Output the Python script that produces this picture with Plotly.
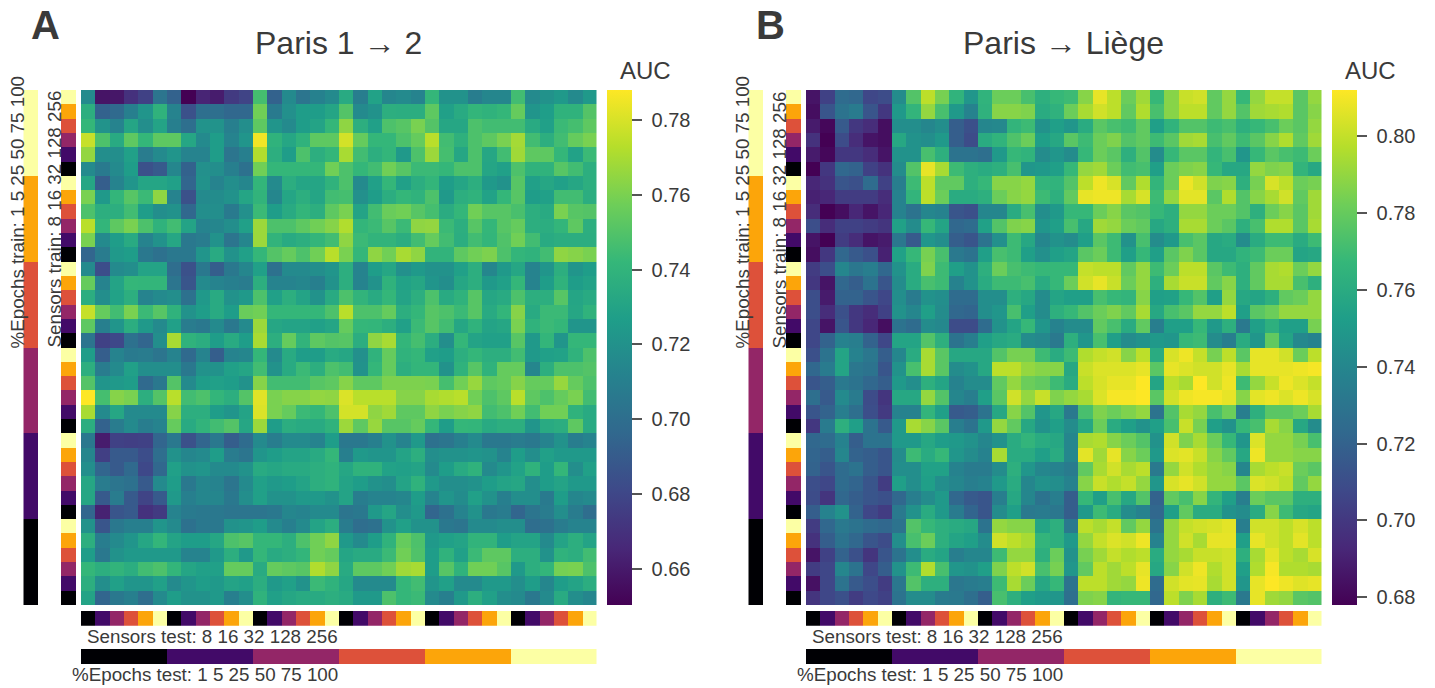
import numpy as np
import plotly.graph_objects as go

W, H = 1435, 688

# AUC x 1000, rows top (100% / 256) to bottom, columns left to right
auc_paris_1_2 = [
[712,657,658,668,675,700,690,650,663,660,672,676,743,690,712,700,707,712,730,705,725,710,712,708,738,716,716,705,710,710,742,712,716,720,712,720],
[733,690,694,706,718,735,708,682,697,697,693,693,755,703,715,722,722,727,747,712,716,733,732,732,750,724,730,737,735,738,752,718,723,735,735,747],
[738,717,708,727,714,726,706,697,717,717,706,714,750,718,712,722,726,738,762,733,724,745,748,757,747,728,728,745,742,742,742,730,724,740,743,750],
[775,745,730,750,738,750,750,728,712,722,708,718,785,735,728,735,750,750,778,752,738,738,745,752,772,742,734,745,750,757,767,742,733,742,752,757],
[763,714,714,724,704,712,718,708,708,722,700,706,770,733,722,745,733,738,768,742,733,737,720,745,765,743,728,745,728,742,766,750,750,738,725,740],
[712,703,712,722,682,686,710,690,715,714,706,698,755,738,738,738,738,755,745,738,742,755,748,740,740,738,745,745,727,724,745,735,735,748,742,733],
[728,688,708,718,727,727,724,692,716,708,714,710,737,712,732,727,727,735,745,712,724,738,724,732,737,722,727,733,720,716,748,724,728,724,728,733],
[757,720,737,748,740,762,708,682,712,713,716,727,736,710,727,733,727,742,743,715,722,732,738,735,745,720,733,735,725,738,748,722,724,742,742,732],
[745,733,733,742,722,714,716,693,714,714,703,715,740,722,730,737,733,750,757,726,742,753,755,748,743,731,738,755,748,748,744,733,730,757,748,747],
[772,737,750,757,745,735,742,726,708,710,714,724,765,745,745,750,755,760,770,737,740,748,740,762,763,740,733,748,738,748,752,733,732,737,750,733],
[757,712,722,730,708,716,728,702,704,716,700,710,765,736,730,733,737,742,762,740,736,736,732,742,752,742,732,742,737,746,755,742,730,732,732,732],
[692,704,720,722,702,698,702,702,718,730,716,724,738,747,752,745,755,772,757,738,762,755,768,762,736,736,750,755,758,745,737,735,742,762,760,757],
[712,680,712,714,726,726,696,682,702,688,702,710,724,698,712,712,714,718,733,708,722,728,715,720,716,716,724,733,710,720,728,708,718,733,718,722],
[752,708,726,738,737,737,700,684,712,708,706,704,733,708,708,710,706,716,733,708,716,735,725,728,718,714,728,733,720,724,738,708,722,735,722,725],
[732,714,725,733,708,712,714,698,720,730,716,720,745,724,733,726,716,730,745,736,730,738,726,733,745,730,735,748,728,730,745,733,733,748,727,730],
[775,752,742,757,740,748,735,716,722,730,722,753,755,738,738,738,738,745,772,745,745,752,733,738,748,745,740,748,730,737,760,730,740,740,728,735],
[750,706,718,732,720,712,724,704,702,712,702,712,765,728,726,726,724,727,752,738,737,733,724,740,748,742,728,735,726,728,757,735,740,738,718,718],
[700,675,678,698,692,714,768,735,732,722,730,722,768,733,752,736,750,747,748,732,762,768,737,743,732,714,738,726,724,724,748,720,737,718,738,738],
[722,688,708,703,704,700,708,694,708,688,708,710,738,712,730,722,722,730,728,715,735,752,735,738,724,722,733,738,733,733,742,720,724,725,735,745],
[733,704,712,724,714,714,714,702,716,716,724,727,742,716,730,740,733,745,742,716,738,752,733,737,737,716,735,748,735,752,752,710,733,745,745,747],
[747,718,720,722,694,702,747,712,722,724,722,716,760,742,742,742,748,750,760,750,750,758,758,758,757,743,755,764,750,752,760,752,752,764,752,745],
[788,743,760,757,733,747,772,742,745,737,733,747,781,757,760,760,763,762,780,772,772,772,760,760,768,770,772,755,745,750,772,750,745,752,757,742],
[768,712,728,712,712,712,760,733,733,722,718,726,780,757,752,740,738,745,778,778,762,766,750,750,762,757,760,762,742,745,755,742,755,755,735,730],
[732,690,704,712,705,708,752,730,736,742,747,728,765,722,732,730,730,735,765,750,764,748,748,752,738,722,738,737,730,733,733,718,730,732,750,730],
[702,660,675,674,675,692,702,682,692,702,688,695,712,705,712,712,708,722,702,702,706,716,708,720,698,700,706,712,702,702,704,702,708,716,705,708],
[710,674,686,686,680,696,716,710,712,722,704,700,718,722,726,726,730,738,706,720,718,718,726,733,714,716,716,718,716,708,722,714,724,720,720,720],
[714,692,686,694,678,693,724,716,718,712,712,716,730,728,730,730,733,735,728,735,735,725,724,726,712,722,730,735,712,718,725,735,722,738,714,724],
[728,704,700,698,686,712,722,702,710,708,700,712,724,720,722,726,733,735,726,722,716,714,726,735,720,714,714,716,722,726,728,714,722,726,720,720],
[728,686,704,686,676,686,720,706,710,710,702,714,724,716,716,720,720,716,726,705,708,708,710,722,708,718,713,724,716,706,714,714,703,722,710,712],
[692,662,684,686,668,672,708,703,702,702,700,700,700,702,710,708,712,712,700,702,720,727,714,720,692,698,708,716,702,704,692,700,704,714,704,696],
[716,684,702,706,706,718,712,698,702,702,716,718,722,712,706,712,726,732,704,696,698,716,724,716,716,702,700,712,712,714,714,696,698,704,708,708],
[733,705,712,718,728,737,726,722,722,728,745,748,738,738,733,745,755,762,720,712,722,735,752,745,720,724,726,736,736,722,726,726,712,726,733,726],
[722,702,716,720,720,720,720,708,708,720,733,720,738,730,733,737,755,752,727,730,730,740,755,746,722,735,724,740,750,750,733,733,716,735,733,742],
[738,733,736,732,742,745,737,727,724,724,752,752,730,752,750,748,770,762,730,750,750,755,766,768,722,748,735,755,755,748,720,733,737,756,757,745],
[733,714,724,718,718,724,712,718,722,720,726,724,732,720,724,716,740,735,728,712,712,712,738,742,718,724,712,712,720,720,714,722,710,722,726,732],
[726,692,702,706,696,712,722,716,716,720,706,714,735,724,728,730,730,733,730,720,720,745,738,740,712,706,720,733,724,714,712,702,712,730,714,710],
]

auc_paris_liege = [
[684,700,718,716,702,704,735,768,795,778,757,740,757,775,775,765,755,760,762,782,806,795,775,788,760,782,798,800,772,785,760,785,797,797,770,785],
[682,708,722,726,708,696,742,758,785,765,742,730,756,782,782,780,752,756,775,790,800,795,772,792,765,782,795,795,772,785,768,788,790,792,770,782],
[686,680,710,696,692,682,736,736,732,736,712,706,732,733,758,762,738,745,740,752,770,765,762,772,745,757,768,768,762,765,755,760,765,775,770,785],
[694,678,704,692,684,682,750,738,736,742,712,704,752,757,767,775,745,750,770,762,775,780,768,772,762,770,788,790,765,772,762,770,782,792,772,788],
[686,680,696,696,692,684,738,738,765,755,722,722,720,742,760,757,735,740,735,760,775,770,755,768,735,760,770,770,758,765,740,760,770,765,762,775],
[678,696,716,714,700,694,735,768,806,790,762,755,752,755,765,740,742,745,760,785,788,775,763,765,745,775,780,782,760,750,750,785,780,782,758,750],
[690,694,708,706,718,700,728,762,795,772,772,755,760,782,782,785,758,757,768,795,808,802,772,792,758,775,808,800,780,782,755,778,802,795,775,778],
[688,690,698,698,698,692,730,758,795,775,752,752,755,775,782,785,762,755,772,806,808,808,790,802,762,785,805,805,770,792,768,782,790,800,772,788],
[692,678,682,690,684,690,730,722,732,730,708,706,732,732,752,765,736,742,760,760,775,782,770,768,760,755,785,785,775,775,768,755,775,782,770,788],
[705,692,700,700,698,695,746,735,760,748,716,718,746,768,780,782,740,745,765,750,788,785,775,772,750,755,790,790,775,770,755,765,792,792,770,790],
[684,678,698,692,684,686,724,710,740,736,712,708,722,737,762,750,732,738,735,745,770,762,738,765,735,742,765,770,750,752,735,752,762,762,752,762],
[682,696,716,710,706,688,746,760,778,765,725,722,745,765,762,745,737,745,748,770,775,762,745,760,745,770,780,770,750,750,757,762,775,775,748,750],
[698,705,732,724,728,716,738,752,780,762,745,738,755,775,765,762,760,760,760,797,795,795,772,785,762,775,795,795,770,762,755,772,790,792,775,785],
[696,684,716,712,722,708,735,752,765,762,730,738,752,762,762,765,752,760,775,800,806,798,775,785,755,790,798,798,772,782,755,772,790,790,765,755],
[705,686,714,714,708,702,736,726,738,736,718,718,736,736,755,750,735,748,745,745,765,760,758,782,745,746,760,768,745,785,750,748,755,772,775,785],
[705,692,706,696,692,700,738,732,745,735,716,715,736,740,765,745,735,755,760,768,775,780,772,790,750,765,770,785,785,795,745,770,775,785,785,785],
[702,684,708,696,690,682,722,718,735,733,704,704,718,738,748,760,740,730,735,735,772,765,752,772,728,745,745,760,742,755,725,745,755,745,745,778],
[702,714,730,728,714,702,748,748,768,755,722,728,745,750,752,735,733,725,755,740,765,745,735,738,742,740,760,762,735,728,752,740,772,748,733,730],
[706,722,748,730,724,712,732,752,790,770,750,750,750,768,778,778,762,752,762,792,797,800,782,795,752,802,808,797,778,795,770,806,806,800,775,795],
[716,726,748,724,722,708,738,765,790,770,735,738,750,795,795,785,782,782,750,798,803,803,803,806,770,806,803,800,800,806,790,806,806,806,808,810],
[708,712,725,722,716,712,742,736,755,748,730,735,735,772,785,775,772,762,752,795,802,806,806,812,748,795,790,812,800,808,762,785,798,808,803,797],
[720,710,734,726,704,695,750,750,785,768,732,728,745,770,800,785,798,780,785,790,803,810,810,812,770,800,808,810,810,806,782,805,808,803,808,802],
[708,714,728,720,705,697,730,730,758,745,710,712,722,750,782,768,740,750,725,765,780,775,780,785,722,768,790,785,765,775,728,755,770,770,775,790],
[696,726,755,745,722,710,742,790,782,770,728,722,742,785,772,750,738,745,735,750,775,752,745,738,745,765,798,778,745,738,760,765,790,782,750,735],
[716,718,730,712,722,722,742,742,750,744,742,738,732,738,752,758,752,750,732,790,792,782,775,768,738,800,780,790,775,760,740,803,785,785,778,765],
[715,712,732,714,712,708,735,762,752,760,740,735,730,790,752,752,745,752,732,805,788,806,782,775,742,803,805,798,782,772,750,808,785,785,782,782],
[714,708,718,722,712,708,736,736,746,746,730,726,726,735,755,740,732,730,726,772,790,800,790,795,725,785,800,792,785,782,732,790,795,798,775,770],
[705,702,718,715,708,698,745,736,745,736,732,728,730,742,752,732,738,736,730,782,798,792,797,785,740,802,806,800,785,785,770,803,800,795,772,785],
[704,695,716,712,708,706,716,728,735,742,716,710,708,728,750,732,722,728,712,760,745,765,750,768,714,772,765,782,758,745,728,775,770,770,755,755],
[712,730,738,714,702,698,725,738,752,742,726,715,708,735,745,725,726,724,712,742,762,752,735,730,716,745,772,752,752,738,735,752,782,762,750,748],
[698,716,725,722,718,716,722,768,760,755,752,750,722,785,782,782,748,755,725,795,790,797,772,785,722,785,797,800,802,805,728,800,800,795,802,795],
[694,712,722,716,708,704,736,765,775,755,748,745,735,800,795,790,758,755,742,785,797,803,800,808,730,785,800,790,806,806,745,806,800,795,805,795],
[684,700,714,706,695,708,722,736,752,748,728,732,732,762,785,785,755,775,738,778,788,797,792,795,752,785,790,798,798,800,755,790,805,795,790,802],
[698,702,732,722,702,712,738,762,792,765,740,738,745,780,795,800,765,778,740,772,795,788,795,806,750,782,800,808,792,800,745,792,810,792,792,790],
[683,702,722,710,705,698,724,768,755,755,724,726,728,762,790,775,750,760,722,795,795,788,785,808,718,800,805,806,790,800,740,806,812,808,804,806],
[695,702,706,698,703,700,722,735,735,726,725,720,712,765,755,745,742,740,720,780,782,758,760,760,716,795,780,790,755,762,725,806,788,785,770,768],
]

sensor_levels = [8, 16, 32, 128, 256]
level_colors = ["#000004", "#420a68", "#932667", "#dd513a", "#fca50a", "#fcffa4"]
sensor_codes = [0, 1, 2, 3, 4, 5] * 6
epoch_codes = [0]*6 + [1]*6 + [2]*6 + [3]*6 + [4]*6 + [5]*6

ticks_a = [0.66, 0.68, 0.70, 0.72, 0.74, 0.76, 0.78]
ticks_b = [0.68, 0.70, 0.72, 0.74, 0.76, 0.78, 0.80]

# my colour readings ran slightly low mid-scale when checked against the colourbar
read_bias_a = 0.004
read_bias_b = 0.008

TXT = "#3a3a3a"
FONT = "Liberation Sans, Arial, sans-serif"
fig = go.Figure()
axis_n = [0]
n6 = len(level_colors)
discrete = []
for i, c in enumerate(level_colors):
    discrete += [[i / n6, c], [(i + 1) / n6, c]]


def add_axes(x0, x1, y0, y1, nx, ny):
    axis_n[0] += 1
    k = axis_n[0]
    s = "" if k == 1 else str(k)
    fig.layout["xaxis" + s] = dict(domain=[x0 / W, x1 / W], range=[-0.5, nx - 0.5], visible=False,
                                   anchor="y" + s, fixedrange=True)
    fig.layout["yaxis" + s] = dict(domain=[1 - y1 / H, 1 - y0 / H], range=[ny - 0.5, -0.5], visible=False,
                                   anchor="x" + s, fixedrange=True)
    return ("x" + s, "y" + s)


def text(x, y, t, size, anchor="center", angle=0, bold=False):
    fig.add_annotation(x=x / W, y=1 - y / H, xref="paper", yref="paper", text=("<b>%s</b>" % t) if bold else t,
                       showarrow=False, xanchor=anchor, yanchor="middle", textangle=angle,
                       font=dict(family=FONT, size=size, color=TXT))


def panel(ox, z, zmin, zmax, bias, ticks, title, letter, letter_x, title_x):
    xa, ya = add_axes(ox + 81, ox + 596.5, 90, 605, 36, 36)
    vals = np.array(z) / 1000
    f = (vals - zmin) / (zmax - zmin)
    vals = vals + bias * 4 * f * (1 - f)
    fig.add_trace(go.Heatmap(
        z=vals, xaxis=xa, yaxis=ya, colorscale="Viridis", zmin=zmin, zmax=zmax,
        hoverinfo="skip",
        colorbar=dict(x=(ox + 606.7) / W, xanchor="left", xpad=0, thickness=25.3, thicknessmode="pixels",
                      y=1 - 605 / H, yanchor="bottom", ypad=0, len=515 / H, lenmode="fraction",
                      outlinewidth=0, tickvals=ticks, ticktext=["\u00a0%.2f" % t for t in ticks],
                      ticks="outside", ticklen=10.5, tickwidth=1.5, tickcolor="#555",
                      tickfont=dict(family=FONT, size=20, color=TXT)),
    ))
    for (x0, x1, y0, y1, codes, vertical) in [
        (ox + 23.3, ox + 38, 90, 605, epoch_codes[::-1], True),
        (ox + 61, ox + 76, 90, 605, sensor_codes[::-1], True),
        (ox + 81, ox + 596.5, 611, 625.7, sensor_codes, False),
        (ox + 81, ox + 596.5, 649, 664, epoch_codes, False),
    ]:
        if vertical:
            xa, ya = add_axes(x0, x1, y0, y1, 1, 36)
            zz = [[c] for c in codes]
        else:
            xa, ya = add_axes(x0, x1, y0, y1, 36, 1)
            zz = [codes]
        fig.add_trace(go.Heatmap(z=zz, xaxis=xa, yaxis=ya, colorscale=discrete, zmin=-0.5, zmax=5.5,
                                 showscale=False, hoverinfo="skip"))
    sens = " ".join(str(s) for s in sensor_levels)
    text(ox + 340, 636.5, "Sensors test: " + sens, 18.8, "right")
    text(ox + 340, 674.5, "%Epochs test: 1 5 25 50 75 100", 18.8, "right")
    text(ox + 16.5, 212, "%Epochs train: 1 5 25 50 75 100", 18.8, angle=-90)
    text(ox + 54, 219.5, "Sensors train: " + sens, 18.8, angle=-90)
    text(title_x, 43, title, 32)
    text(ox + 645.5, 71, "AUC", 24)
    text(letter_x, 25, letter, 40, bold=True)


panel(0, auc_paris_1_2, 0.6503, 0.788, read_bias_a, ticks_a, "Paris 1 \u2192 2", "A", 45, 338)
panel(725, auc_paris_liege, 0.678, 0.812, read_bias_b, ticks_b, "Paris \u2192 Li\u00e8ge", "B", 770, 1063)

fig.update_layout(width=W, height=H, margin=dict(l=0, r=0, t=0, b=0), paper_bgcolor="white",
                  plot_bgcolor="white", showlegend=False)
fig.write_html("out.html", config={"displayModeBar": False},
               post_script="document.body.style.margin='0';document.body.style.overflow='hidden';")
